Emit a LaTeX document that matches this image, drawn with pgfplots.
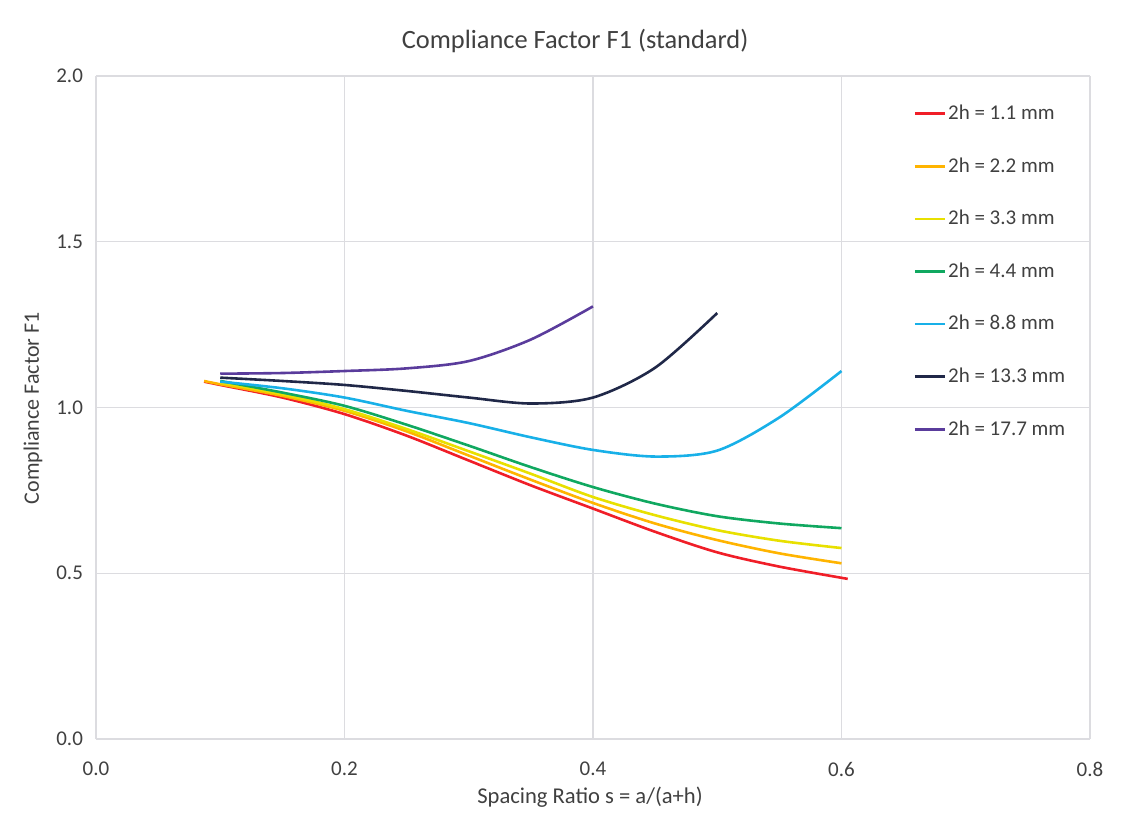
\documentclass[border=0pt]{standalone}
\usepackage{fontspec}
\setmainfont{Carlito}
\usepackage{pgfplots}
\pgfplotsset{compat=1.18}

\definecolor{cRed}{HTML}{F01E28}
\definecolor{cOrange}{HTML}{FFB400}
\definecolor{cYellow}{HTML}{E8E000}
\definecolor{cGreen}{HTML}{10A860}
\definecolor{cLblue}{HTML}{18B0E8}
\definecolor{cNavy}{HTML}{202848}
\definecolor{cPurple}{HTML}{5A3C9C}
\definecolor{gridc}{HTML}{DCDCE0}
\definecolor{txt}{HTML}{404040}

\begin{document}
\begin{tikzpicture}
\useasboundingbox (-48pt,-44.5pt) rectangle (519.5pt,369.5pt);
\begin{axis}[
    at={(0,0)}, anchor=south west,
    width=497pt, height=331.5pt, scale only axis,
    xmin=0, xmax=0.8, ymin=0, ymax=2,
    xtick={0,0.2,0.4,0.6,0.8},
    ytick={0,0.5,1,1.5,2},
    major tick length=0pt,
    grid=major,
    grid style={gridc, line width=0.6pt},
    axis line style={draw=none},
    ticklabel style={font=\fontsize{10.5}{12}\selectfont, text=txt},
    /pgf/number format/.cd, fixed, zerofill, precision=1, assume math mode=true,
    /pgfplots/.cd,
    yticklabel style={xshift=-3pt},
    xticklabel style={yshift=-8pt},
    title={Compliance Factor F1 (standard)},
    title style={at={(axis description cs:0.482,1)}, yshift=11.5pt, anchor=center, font=\fontsize{13.2}{15}\selectfont, text=txt},
    xlabel={Spacing Ratio s = a/(a+h)},
    xlabel style={at={(axis description cs:0.497,0)}, yshift=-29pt, anchor=center, font=\fontsize{11.3}{13}\selectfont, text=txt},
    ylabel={Compliance Factor F1},
    ylabel style={at={(axis description cs:-0.0634,0.499)}, anchor=center, font=\fontsize{11}{13}\selectfont, text=txt},
    legend style={at={(axis description cs:0.816,0.966)}, anchor=north west, draw=none, fill=none,
        font=\fontsize{10.5}{12}\selectfont, text=txt, row sep=15.5pt,
        nodes={inner xsep=1pt, inner ysep=1pt}},
    legend cell align=left,
    legend image code/.code={\draw[#1] (0pt,0pt) -- (15pt,0pt);},
    every axis plot/.append style={line width=1.3pt, smooth, no markers},
]
\addplot[cRed] coordinates {(0.087,1.078) (0.1,1.068) (0.15,1.03) (0.2,0.98) (0.25,0.915) (0.3,0.84) (0.35,0.765) (0.4,0.695) (0.45,0.625) (0.5,0.563) (0.55,0.52) (0.605,0.483)};
\addlegendentry{2h = 1.1 mm}
\addplot[cOrange] coordinates {(0.087,1.08) (0.1,1.07) (0.15,1.035) (0.2,0.99) (0.25,0.928) (0.3,0.855) (0.35,0.782) (0.4,0.712) (0.45,0.65) (0.5,0.6) (0.55,0.56) (0.6,0.53)};
\addlegendentry{2h = 2.2 mm}
\addplot[cYellow] coordinates {(0.1,1.075) (0.15,1.04) (0.2,0.995) (0.25,0.935) (0.3,0.868) (0.35,0.8) (0.4,0.73) (0.45,0.675) (0.5,0.63) (0.55,0.598) (0.6,0.576)};
\addlegendentry{2h = 3.3 mm}
\addplot[cGreen] coordinates {(0.1,1.08) (0.15,1.045) (0.2,1.005) (0.25,0.948) (0.3,0.885) (0.35,0.82) (0.4,0.76) (0.45,0.71) (0.5,0.672) (0.55,0.65) (0.6,0.636)};
\addlegendentry{2h = 4.4 mm}
\addplot[cLblue] coordinates {(0.1,1.078) (0.15,1.058) (0.2,1.03) (0.25,0.99) (0.3,0.953) (0.35,0.91) (0.4,0.872) (0.45,0.852) (0.5,0.87) (0.55,0.97) (0.6,1.11)};
\addlegendentry{2h = 8.8 mm}
\addplot[cNavy] coordinates {(0.1,1.09) (0.15,1.08) (0.2,1.068) (0.25,1.05) (0.3,1.03) (0.35,1.012) (0.4,1.03) (0.45,1.12) (0.5,1.285)};
\addlegendentry{2h = 13.3 mm}
\addplot[cPurple] coordinates {(0.1,1.102) (0.15,1.104) (0.2,1.11) (0.25,1.118) (0.3,1.14) (0.35,1.205) (0.4,1.305)};
\addlegendentry{2h = 17.7 mm}
\end{axis}
\end{tikzpicture}
\end{document}
